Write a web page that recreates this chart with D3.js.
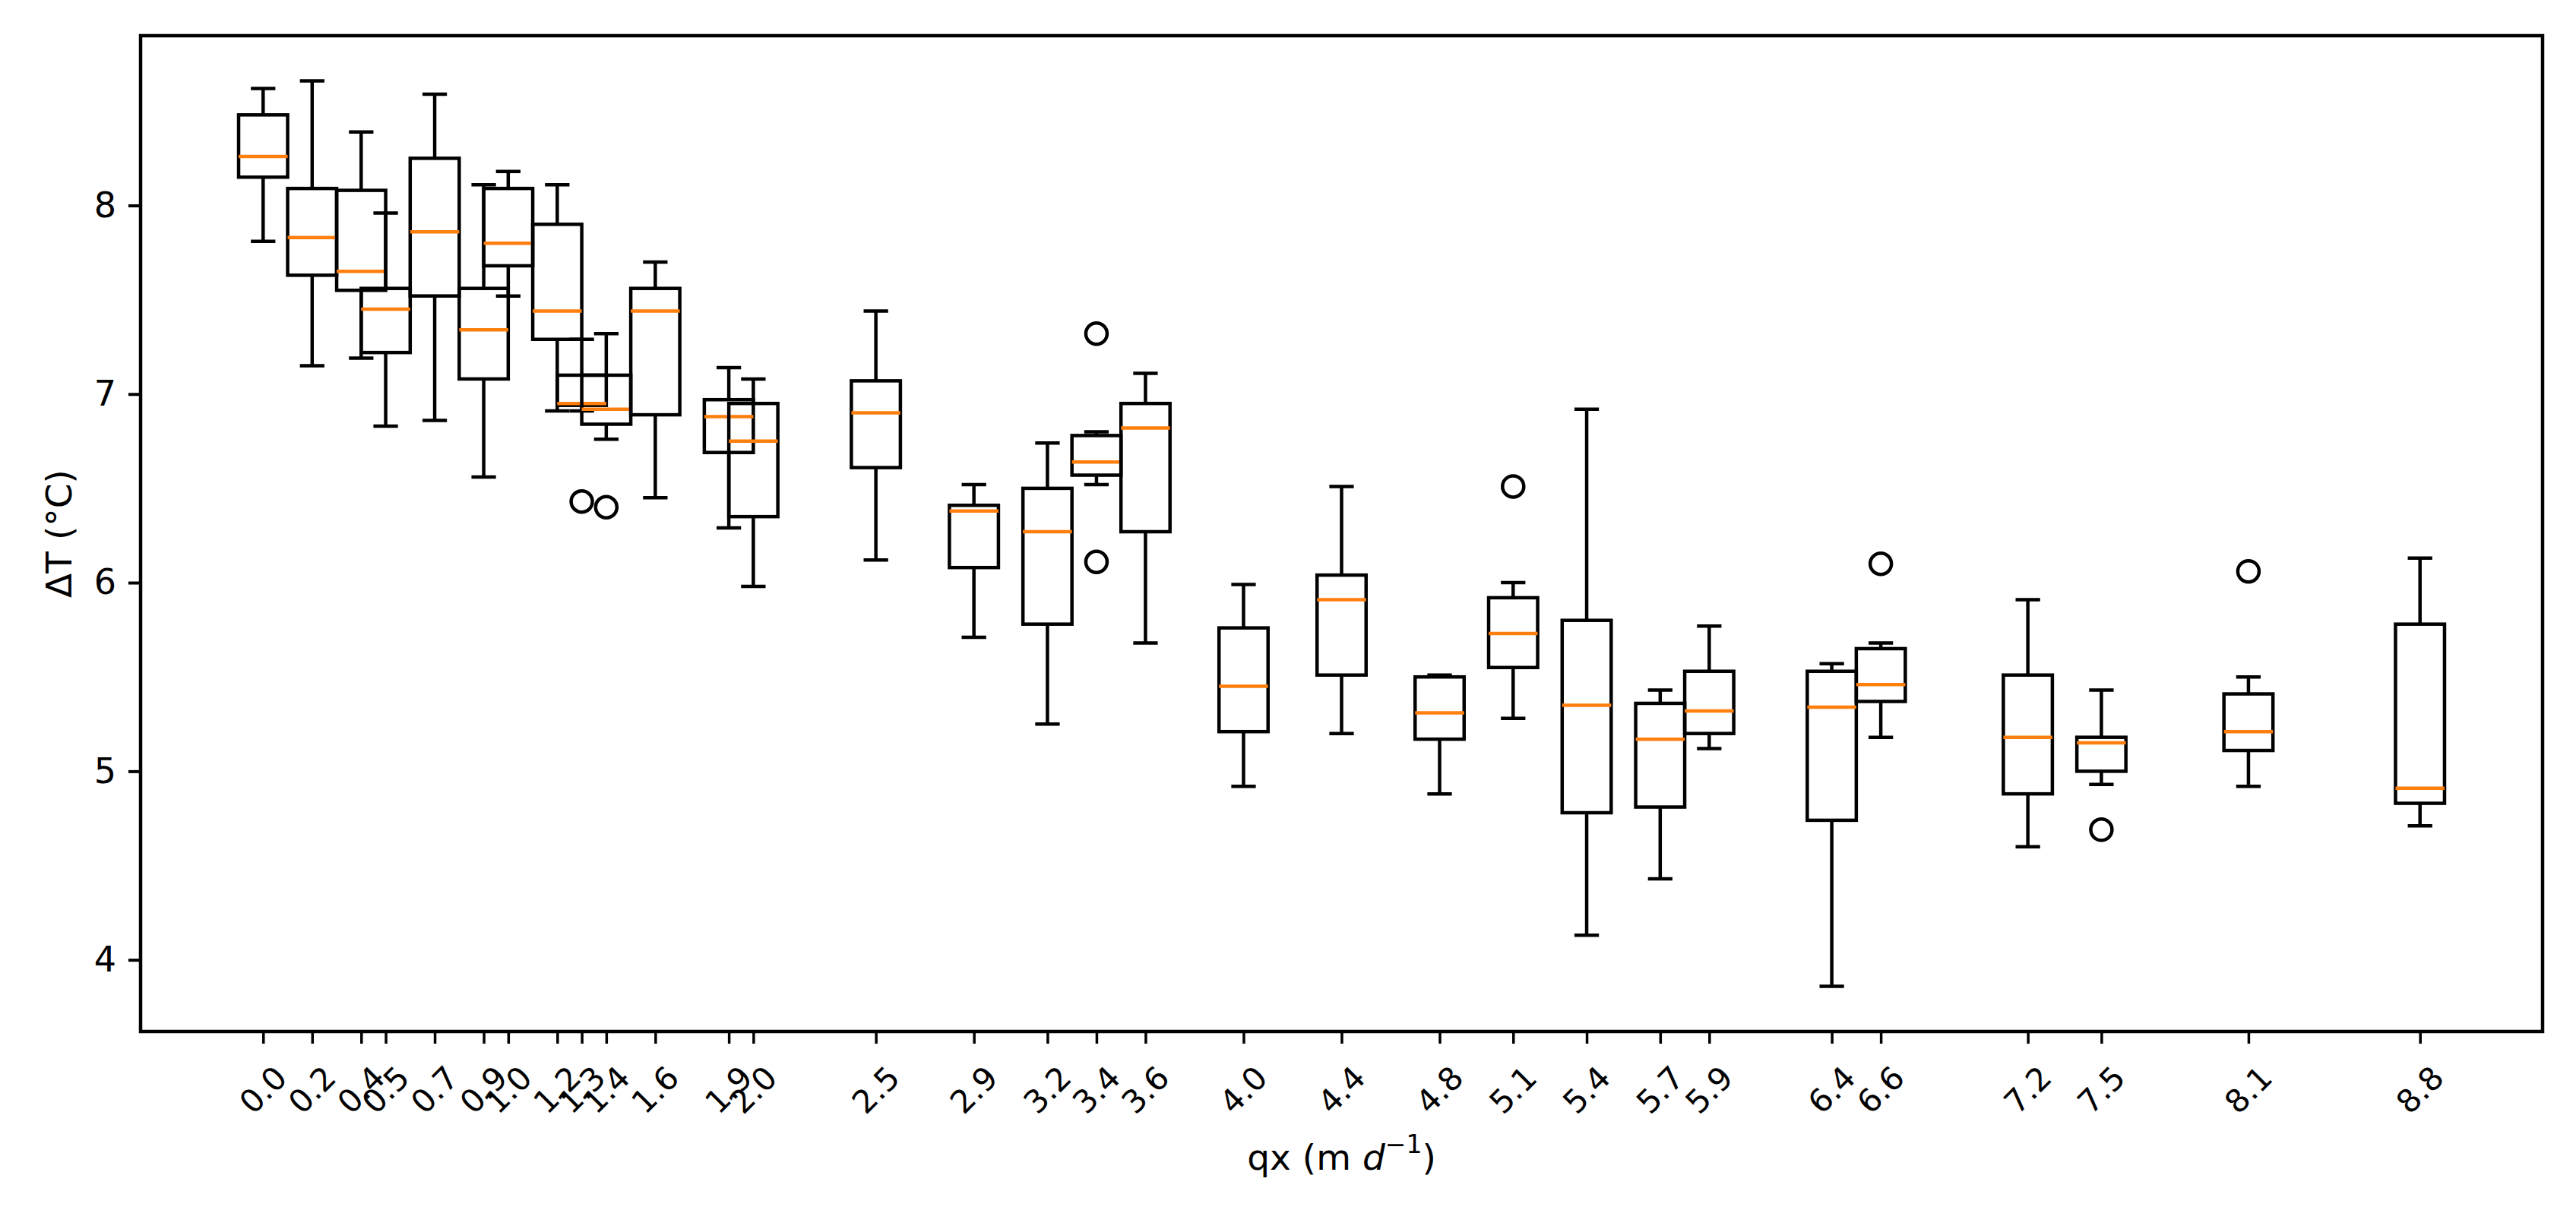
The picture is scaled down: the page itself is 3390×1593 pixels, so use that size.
<!DOCTYPE html>
<html><head><meta charset="utf-8">
<script src="https://cdn.jsdelivr.net/npm/d3@7"></script>
<style>body{margin:0;background:#fff}svg{display:block}</style>
</head><body>
<svg id="c" width="3390" height="1593"></svg>
<script>
// ---- data ----
const positions   = [0.0, 0.2, 0.4, 0.5, 0.7, 0.9, 1.0, 1.2, 1.3, 1.4, 1.6, 1.9, 2.0, 2.5, 2.9, 3.2, 3.4, 3.6, 4.0, 4.4, 4.8, 5.1, 5.4, 5.7, 5.9, 6.4, 6.6, 7.2, 7.5, 8.1, 8.8];
const tickLabels  = ["0.0","0.2","0.4","0.5","0.7","0.9","1.0","1.2","1.3","1.4","1.6","1.9","2.0","2.5","2.9","3.2","3.4","3.6","4.0","4.4","4.8","5.1","5.4","5.7","5.9","6.4","6.6","7.2","7.5","8.1","8.8"];
const whiskerHigh = [8.62, 8.66, 8.39, 7.96, 8.59, 8.11, 8.18, 8.11, 7.29, 7.32, 7.70, 7.14, 7.08, 7.44, 6.52, 6.74, 6.80, 7.11, 5.99, 6.51, 5.51, 6.00, 6.92, 5.43, 5.77, 5.57, 5.68, 5.91, 5.43, 5.50, 6.13];
const q3          = [8.48, 8.09, 8.08, 7.56, 8.25, 7.56, 8.09, 7.90, 7.10, 7.10, 7.56, 6.97, 6.95, 7.07, 6.41, 6.50, 6.78, 6.95, 5.76, 6.04, 5.50, 5.92, 5.80, 5.36, 5.53, 5.53, 5.65, 5.51, 5.18, 5.41, 5.78];
const median      = [8.26, 7.83, 7.65, 7.45, 7.86, 7.34, 7.80, 7.44, 6.95, 6.92, 7.44, 6.88, 6.75, 6.90, 6.38, 6.27, 6.64, 6.82, 5.45, 5.91, 5.31, 5.73, 5.35, 5.17, 5.32, 5.34, 5.46, 5.18, 5.15, 5.21, 4.91];
const q1          = [8.15, 7.63, 7.55, 7.22, 7.52, 7.08, 7.68, 7.29, 6.94, 6.84, 6.89, 6.69, 6.35, 6.61, 6.08, 5.78, 6.57, 6.27, 5.21, 5.51, 5.17, 5.55, 4.78, 4.81, 5.20, 4.74, 5.37, 4.88, 5.00, 5.11, 4.83];
const whiskerLow  = [7.81, 7.15, 7.19, 6.83, 6.86, 6.56, 7.52, 6.91, 6.91, 6.76, 6.45, 6.29, 5.98, 6.12, 5.71, 5.25, 6.52, 5.68, 4.92, 5.20, 4.88, 5.28, 4.13, 4.43, 5.12, 3.86, 5.18, 4.60, 4.93, 4.92, 4.71];
const outlierPos  = [1.3, 1.4, 3.4, 3.4, 5.1, 6.6, 7.5, 8.1];
const outlierVal  = [6.43, 6.40, 7.32, 6.11, 6.51, 6.10, 4.69, 6.06];
const yTicks      = [4, 5, 6, 7, 8];

// ---- layout ----
const m = {left:185, right:3346, top:47, bottom:1358};
const svg = d3.select("#c");
const x = d3.scaleLinear().domain([-0.5, 9.3]).range([m.left, m.right]);
const y = d3.scaleLinear().domain([3.62, 8.9]).range([m.bottom, m.top]);
const BW = 0.2, CW = 0.1;
const LW = 4.5;
const FONT = "DejaVu Sans";

// ---- boxes ----
const g = svg.append("g");
positions.forEach((p, i) => {
  const gb = g.append("g");
  const xc = x(p);
  gb.append("line").attr("x1", xc).attr("x2", xc).attr("y1", y(q1[i])).attr("y2", y(whiskerLow[i]))
    .attr("stroke", "#000").attr("stroke-width", LW);
  gb.append("line").attr("x1", xc).attr("x2", xc).attr("y1", y(q3[i])).attr("y2", y(whiskerHigh[i]))
    .attr("stroke", "#000").attr("stroke-width", LW);
  [whiskerLow[i], whiskerHigh[i]].forEach(v => {
    gb.append("line").attr("x1", x(p - CW/2)).attr("x2", x(p + CW/2)).attr("y1", y(v)).attr("y2", y(v))
      .attr("stroke", "#000").attr("stroke-width", LW);
  });
  gb.append("rect").attr("x", x(p - BW/2)).attr("width", x(p + BW/2) - x(p - BW/2))
    .attr("y", y(q3[i])).attr("height", y(q1[i]) - y(q3[i]))
    .attr("fill", "none").attr("stroke", "#000").attr("stroke-width", LW);
  gb.append("line").attr("x1", x(p - BW/2)).attr("x2", x(p + BW/2)).attr("y1", y(median[i])).attr("y2", y(median[i]))
    .attr("stroke", "#ff7f0e").attr("stroke-width", LW);
});
g.selectAll("circle.fl").data(outlierPos.map((p, i) => [p, outlierVal[i]])).enter()
  .append("circle").attr("class", "fl")
  .attr("cx", d => x(d[0])).attr("cy", d => y(d[1])).attr("r", 14)
  .attr("fill", "none").attr("stroke", "#000").attr("stroke-width", LW);

// ---- frame ----
svg.append("rect").attr("x", m.left).attr("y", m.top).attr("width", m.right - m.left).attr("height", m.bottom - m.top)
  .attr("fill", "none").attr("stroke", "#000").attr("stroke-width", 4.5);

// ---- y axis ----
const ya = svg.append("g").attr("transform", `translate(${m.left},0)`)
  .call(d3.axisLeft(y).tickValues(yTicks).tickSize(16).tickPadding(16).tickFormat(d3.format("d")));
ya.select(".domain").remove();
ya.selectAll(".tick line").attr("stroke", "#000").attr("stroke-width", 4);
ya.selectAll(".tick text").attr("font-family", FONT).attr("font-size", 46).attr("fill", "#000");

// ---- x axis ----
const xa = svg.append("g").attr("transform", `translate(0,${m.bottom})`)
  .call(d3.axisBottom(x).tickValues(positions).tickSize(16).tickFormat(""));
xa.select(".domain").remove();
xa.selectAll(".tick line").attr("stroke", "#000").attr("stroke-width", 3.5);
const xl = svg.append("g");
positions.forEach((p, i) => {
  const t = xl.append("text").text(tickLabels[i])
    .attr("font-family", FONT).attr("font-size", 42).attr("fill", "#000")
    .attr("text-anchor", "middle").attr("dominant-baseline", "central");
  const bb = t.node().getBBox();
  const rh = (bb.width + bb.height) / Math.SQRT2;
  t.attr("transform", `translate(${x(p)},${m.bottom + 16 + 20 + rh/2}) rotate(-45)`);
});

// ---- axis titles ----
svg.append("text").attr("transform", `translate(94,${(m.top + m.bottom)/2}) rotate(-90)`)
  .attr("text-anchor", "middle").attr("font-family", FONT).attr("font-size", 47).attr("fill", "#000")
  .text("ΔT (°C)");
const xt = svg.append("text").attr("x", (m.left + m.right)/2).attr("y", 1540)
  .attr("text-anchor", "middle").attr("font-family", FONT).attr("font-size", 47).attr("fill", "#000");
xt.append("tspan").text("qx (m ");
xt.append("tspan").attr("font-style", "italic").text("d");
xt.append("tspan").attr("font-size", 33).attr("dy", -22).text("−1");
xt.append("tspan").attr("font-size", 47).attr("dy", 22).text(")");
</script>
</body></html>
